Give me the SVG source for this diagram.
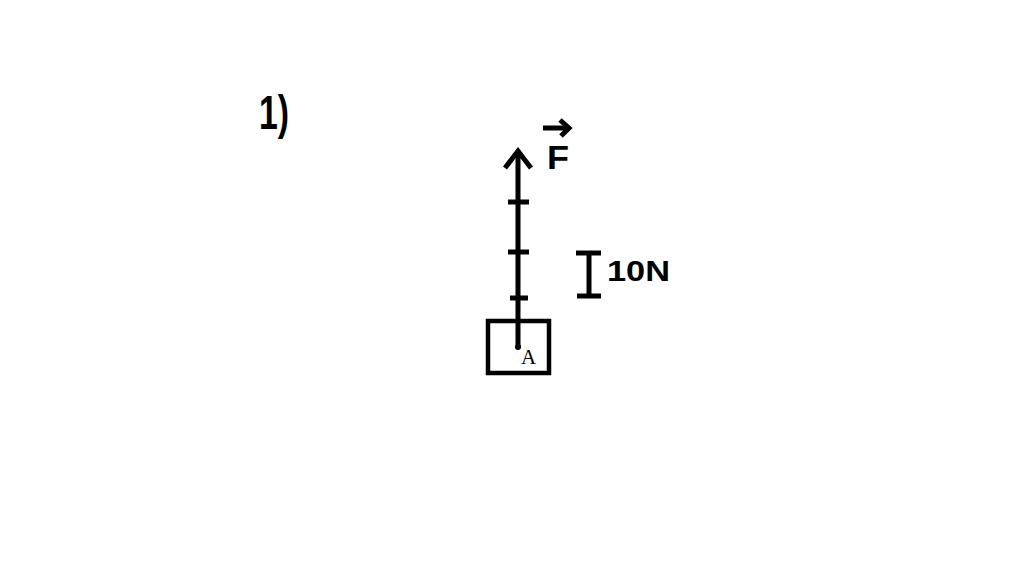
<svg xmlns="http://www.w3.org/2000/svg" width="1024" height="575" viewBox="0 0 1024 575">
<style>
.ln{stroke:#000;stroke-width:5;fill:none;stroke-linecap:butt}
.hw{font-family:"Liberation Sans",Arial,sans-serif;font-weight:bold;fill:#000}
</style>
<rect width="1024" height="575" fill="#fff"/>
<g id="label-1">
<text class="hw" x="259" y="129" font-size="48" textLength="30" lengthAdjust="spacingAndGlyphs">1)</text>
</g>
<g id="connectors">
<line class="ln" x1="518" y1="150" x2="518" y2="347"/>
<polyline class="ln" points="505,168 518,151 531,168" stroke-linejoin="miter"/>
<line class="ln" x1="508" y1="202" x2="529" y2="202"/>
<line class="ln" x1="508" y1="252" x2="529" y2="252"/>
<line class="ln" x1="510" y1="298" x2="528" y2="298"/>
<circle cx="518" cy="347" r="3" fill="#000"/>
</g>
<g id="force-label">
<line class="ln" x1="543" y1="128" x2="568" y2="128" stroke-width="4"/>
<polyline class="ln" points="560,120 569,128 561,136" stroke-width="4"/>
<text class="hw" x="547" y="169" font-size="34" textLength="22" lengthAdjust="spacingAndGlyphs">F</text>
</g>
<g id="block-A">
<rect x="488" y="321" width="61" height="52" fill="none" stroke="#000" stroke-width="4.5"/>
<text x="521" y="364" font-family="Liberation Serif,'Times New Roman',serif" font-size="21" fill="#000">A</text>
</g>
<g id="scale">
<line class="ln" x1="589" y1="252" x2="589" y2="297"/>
<line class="ln" x1="576" y1="253" x2="601" y2="253"/>
<line class="ln" x1="577" y1="296" x2="601" y2="296"/>
<text class="hw" x="607" y="281" font-size="30" textLength="63" lengthAdjust="spacingAndGlyphs">10N</text>
</g>
</svg>
